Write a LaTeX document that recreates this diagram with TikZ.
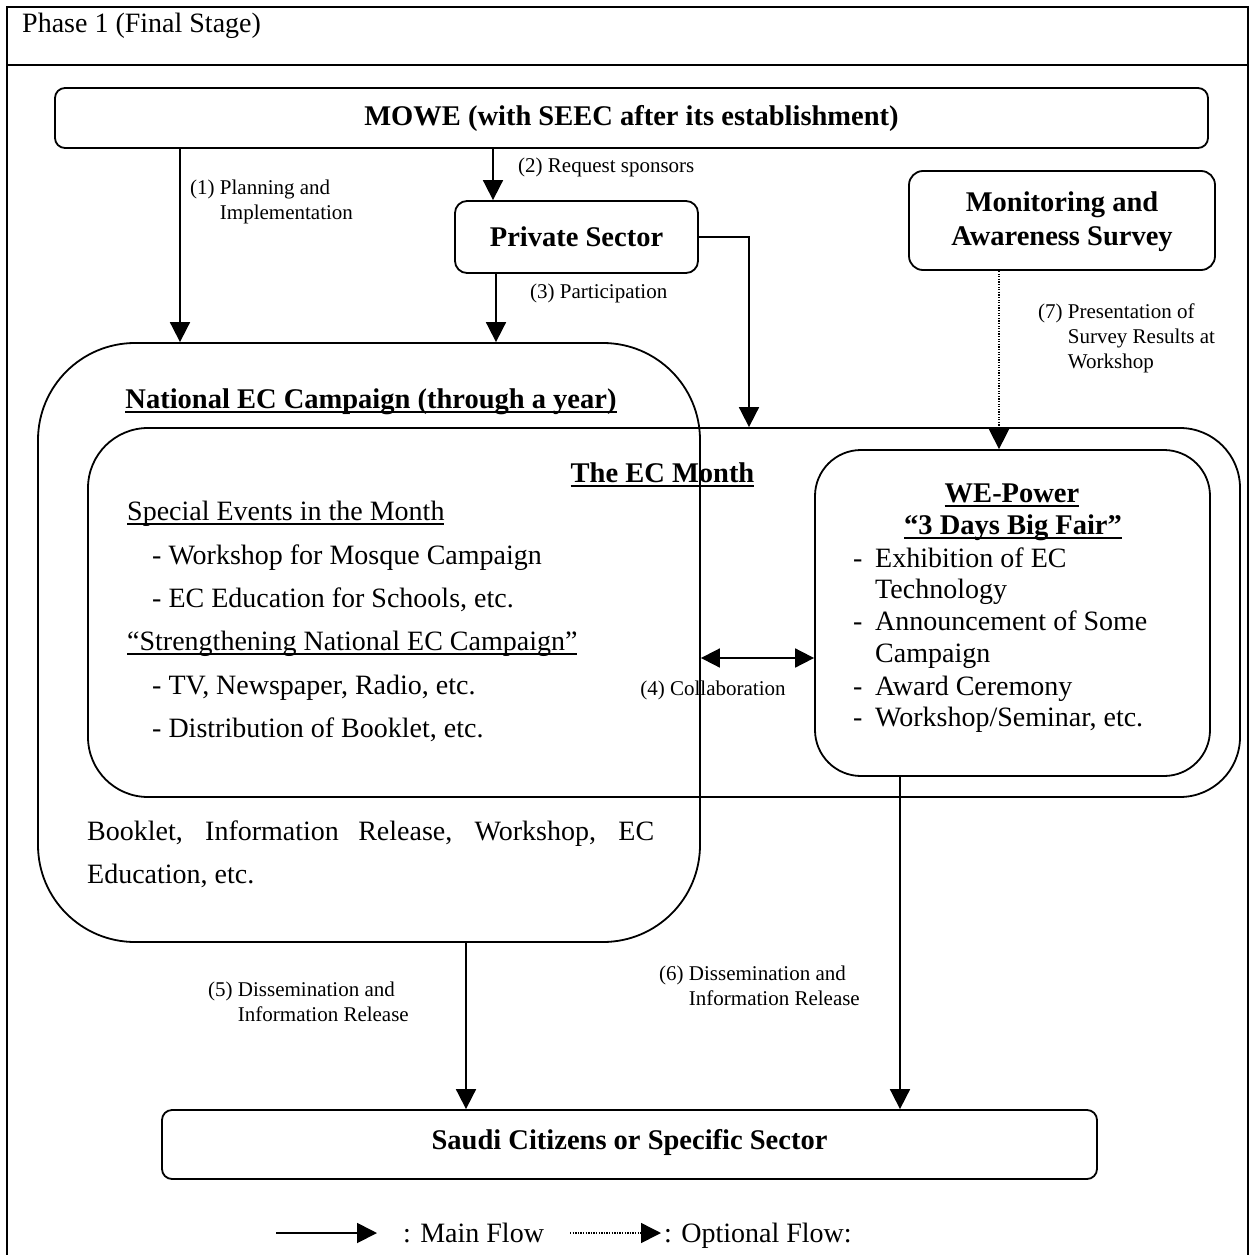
\documentclass[tikz,border=0pt]{standalone}
\usepackage{fontspec}
\setmainfont{Liberation Serif}
\usetikzlibrary{arrows.meta}
\newsavebox\undlbox
\newcommand\undl[1]{\sbox\undlbox{#1}\rlap{\rule[-5pt]{\wd\undlbox}{1.8pt}}\usebox\undlbox}
\begin{document}
\begin{tikzpicture}[x=1pt,y=-1pt,
  frame/.style={line width=2.4pt},
  box/.style={draw, line width=1.8pt},
  body/.style={font=\fontsize{28}{32}\selectfont, inner sep=0pt},
  small/.style={font=\fontsize{21}{25}\selectfont, inner sep=0pt},
  head/.style={font=\fontsize{28.5}{34}\selectfont\bfseries, inner sep=0pt},
  flow/.style={line width=1.8pt, -{Triangle[length=20pt,width=20pt]}},
  dflow/.style={line width=1.8pt, {Triangle[length=19pt,width=19pt]}-{Triangle[length=19pt,width=19pt]}},
  opt/.style={line width=1.5pt, dash pattern=on 1.3pt off 1.3pt, -{Triangle[length=20pt,width=20pt]}},
  lbl/.style={small, anchor=base west}
]
\useasboundingbox (0,0) rectangle (1253,1255);

% outer frame and heading strip
\draw[frame] (7,1255) -- (7,7) -- (1248,7) -- (1248,1255);
\draw[frame] (7,65) -- (1248,65);
\node[body, anchor=base west] (title) at (22,33) {Phase 1 (Final Stage)};

% boxes
\node[box, rounded corners=10pt, minimum width=1153pt, minimum height=60pt, head] (mowe) at (631.5,118) {MOWE (with SEEC after its establishment)};
\node[box, rounded corners=12pt, minimum width=243pt, minimum height=72pt, head] (priv) at (576.5,237) {Private Sector};
\node[box, rounded corners=14pt, minimum width=306pt, minimum height=99pt] (mon) at (1062,220.5) {};
\node[head, align=center, anchor=base] (mont) at (1062,245) {Monitoring and\\Awareness Survey};
\node[box, rounded corners=97pt, minimum width=662pt, minimum height=599pt] (nat) at (369,642.5) {};
\node[box, rounded corners=60pt, minimum width=1152pt, minimum height=369pt] (month) at (664,612.5) {};
\node[box, rounded corners=46pt, minimum width=395pt, minimum height=326pt] (we) at (1012.5,613) {};
\node[box, rounded corners=10pt, minimum width=935pt, minimum height=69pt] (saudi) at (629.5,1144.5) {};
\node[head, anchor=base] (saudit) at (629.5,1149) {Saudi Citizens or Specific Sector};

% national campaign texts
\node[head, anchor=base] (nattitle) at (371,408) {\undl{National EC Campaign (through a year)}};
\node[body, anchor=base west] (natA) at (87,840) {\makebox[567pt][s]{Booklet, Information Release, Workshop, EC}};
\node[body, anchor=base west] (natB) at (87,883) {Education, etc.};

% EC month texts
\node[head, anchor=base] (monthtitle) at (662.5,482) {\undl{The EC Month}};
\node[body, anchor=base west] (ev1) at (127,520) {\undl{Special Events in the Month}};
\node[body, anchor=base west] (ev2) at (152,564) {- Workshop for Mosque Campaign};
\node[body, anchor=base west] (ev3) at (152,607) {- EC Education for Schools, etc.};
\node[body, anchor=base west] (ev4) at (127,650) {\undl{“Strengthening National EC Campaign”}};
\node[body, anchor=base west] (ev5) at (152,694) {- TV, Newspaper, Radio, etc.};
\node[body, anchor=base west] (ev6) at (152,737) {- Distribution of Booklet, etc.};

% fair texts
\node[head, anchor=base] (wet1) at (1012,502) {\undl{WE-Power}};
\node[head, anchor=base] (wet2) at (1013,534) {\undl{“3 Days Big Fair”}};
\node[body, anchor=base west] (we1) at (853,567) {\makebox[22pt][l]{-}Exhibition of EC};
\node[body, anchor=base west] (we2) at (875,598) {Technology};
\node[body, anchor=base west] (we3) at (853,630) {\makebox[22pt][l]{-}Announcement of Some};
\node[body, anchor=base west] (we4) at (875,662) {Campaign};
\node[body, anchor=base west] (we5) at (853,695) {\makebox[22pt][l]{-}Award Ceremony};
\node[body, anchor=base west] (we6) at (853,726) {\makebox[22pt][l]{-}Workshop/Seminar, etc.};

% connector columns
\coordinate (c1) at (180,0);
\coordinate (c2) at (493,0);
\coordinate (c3) at (496,0);
\coordinate (cp) at (749,0);
\coordinate (c7) at (999,0);
\coordinate (c5) at (466,0);
\coordinate (c6) at (900,0);
\coordinate (r4) at (0,658);

% connectors
\draw[flow] (mowe.south -| c1) -- (nat.north -| c1);
\draw[flow] (mowe.south -| c2) -- (priv.north -| c2);
\draw[flow] (priv.south -| c3) -- (nat.north -| c3);
\draw[flow] (priv.east) -| (month.north -| cp);
\draw[opt] (mon.south -| c7) -- (we.north -| c7);
\draw[dflow] (nat.east |- r4) -- (we.west |- r4);
\draw[flow] (nat.south -| c5) -- (saudi.north -| c5);
\draw[flow] (we.south -| c6) -- (saudi.north -| c6);

% connector labels
\node[lbl] (l1) at (190,194) {\begin{tabular}[t]{@{}l@{\ }l@{}}(1)&Planning and\\&Implementation\end{tabular}};
\node[lbl] (l2) at (518,172) {(2) Request sponsors};
\node[lbl] (l3) at (530,298) {(3) Participation};
\node[small, anchor=base] (l4) at (713,695) {(4) Collaboration};
\node[lbl] (l5) at (208,996) {\begin{tabular}[t]{@{}l@{\ }l@{}}(5)&Dissemination and\\&Information Release\end{tabular}};
\node[lbl] (l6) at (659,980) {\begin{tabular}[t]{@{}l@{\ }l@{}}(6)&Dissemination and\\&Information Release\end{tabular}};
\node[lbl] (l7) at (1038,318) {\begin{tabular}[t]{@{}l@{\ }l@{}}(7)&Presentation of\\&Survey Results at\\&Workshop\end{tabular}};

% legend
\coordinate (lgA) at (276,1233);
\coordinate (lgB) at (377,1233);
\coordinate (lgC) at (570,1233);
\coordinate (lgD) at (661,1233);
\draw[flow] (lgA) -- (lgB);
\node[body, anchor=base west] (lgmain) at (403,1242) {: Main Flow};
\draw[opt] (lgC) -- (lgD);
\node[body, anchor=base west] (lgopt) at (664,1242) {: Optional Flow:};
\end{tikzpicture}
\end{document}
